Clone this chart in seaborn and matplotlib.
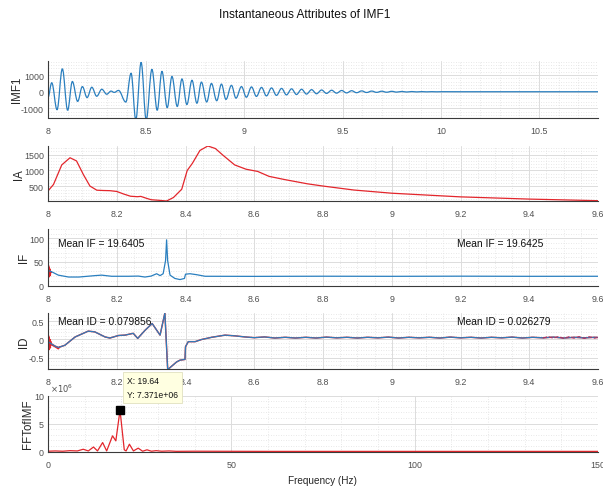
import matplotlib
matplotlib.use("Agg")
import matplotlib.pyplot as plt
import seaborn as sns
from matplotlib.ticker import AutoMinorLocator, FuncFormatter, FixedLocator
from matplotlib.path import Path
from matplotlib.patches import PathPatch

# ---------------- data ----------------
imf_t = [8.000, 8.019, 8.046, 8.073, 8.100, 8.124, 8.151, 8.175, 8.199, 8.223,
         8.248, 8.274, 8.299, 8.321, 8.337, 8.359, 8.396, 8.423, 8.447, 8.474,
         8.500, 8.529, 8.556, 8.580, 8.607, 8.631, 8.658, 8.682, 8.707, 8.733,
         8.758, 8.781, 8.808, 8.832, 8.859, 8.883, 8.906, 8.934, 8.957, 8.985,
         9.010, 9.036, 9.061, 9.087, 9.112, 9.138, 9.163, 9.189, 9.214, 9.240,
         9.265, 9.291, 9.316, 9.342, 9.367, 9.393, 9.418, 9.444, 9.469, 9.495,
         9.520, 9.546, 9.571, 9.597, 9.622, 9.648, 9.673, 9.699, 9.724, 9.750,
         9.775, 9.801, 9.826, 9.852, 9.877, 9.903, 9.928, 9.954, 9.979, 10.005,
         10.100, 10.800]
imf_v = [-350, 540, -1080, 1380, -1115, 615, -580, 310, -350, 270,
         -270, 150, -150, 40, -40, 80, -620, 1115, -1700, 1770,
         -1700, 1350, -1115, 1230, -960, 920, -885, 770, -770, 690,
         -690, 580, -615, 500, -540, 460, -460, 385, -385, 310,
         -330, 290, -280, 260, -250, 230, -220, 200, -190, 175,
         -165, 150, -140, 125, -120, 105, -100, 90, -85, 75,
         -70, 62, -58, 50, -46, 40, -37, 32, -29, 25,
         -22, 18, -16, 12, -10, 8, -6, 5, -4, 3,
         0, 0]

ia_t = [8.000, 8.016, 8.040, 8.064, 8.083, 8.103, 8.122, 8.142, 8.161, 8.180,
        8.200, 8.220, 8.240, 8.260, 8.270, 8.285, 8.300, 8.325, 8.345, 8.365,
        8.389, 8.405, 8.420, 8.442, 8.465, 8.487, 8.509, 8.543, 8.576, 8.610,
        8.643, 8.688, 8.755, 8.800, 8.890, 9.000, 9.200, 9.400, 9.600]
ia_v = [355, 560, 1175, 1400, 1300, 870, 510, 380, 370, 365,
        340, 260, 190, 175, 185, 130, 80, 60, 40, 150,
        410, 1000, 1225, 1630, 1770, 1690, 1480, 1175, 1040, 970,
        815, 715, 580, 510, 385, 285, 170, 100, 50]

if_t = [8.000, 8.011, 8.030, 8.060, 8.090, 8.137, 8.156, 8.185, 8.234, 8.263,
        8.282, 8.300, 8.316, 8.326, 8.335, 8.342, 8.345, 8.348, 8.355, 8.369,
        8.384, 8.397, 8.400, 8.413, 8.432, 8.457, 8.600, 8.800, 9.000, 9.200,
        9.400, 9.600]
if_v = [32, 29, 22, 18, 18, 21, 22, 19.6, 19.6, 20,
        18, 20, 25, 21, 25, 53, 97, 53, 22, 15,
        12.6, 15, 24, 25, 23, 19.6, 19.4, 19.7, 19.5, 19.8,
        19.5, 19.6]
if_red_t = [8.000, 8.001, 8.002, 8.003, 8.004, 8.005, 8.006, 8.007, 8.008, 8.010]
if_red_v = [45, 15, 42, 18, 38, 20, 35, 22, 30, 28]

id_t = [8.000, 8.020, 8.030, 8.049, 8.079, 8.117, 8.136, 8.166, 8.180, 8.205,
        8.224, 8.248, 8.261, 8.282, 8.303, 8.326, 8.340, 8.348, 8.352, 8.374,
        8.384, 8.3985, 8.400, 8.408, 8.428, 8.447, 8.476, 8.515, 8.544, 8.573,
        8.60, 8.63, 8.66, 8.69, 8.72, 8.75, 8.78, 8.81, 8.84, 8.87,
        8.90, 8.93, 8.96, 8.99, 9.02, 9.05, 9.08, 9.11, 9.14, 9.17,
        9.20, 9.23, 9.26, 9.29, 9.32, 9.35, 9.38, 9.41, 9.44, 9.47,
        9.50, 9.53, 9.56, 9.59, 9.60]
id_v = [-0.06, -0.18, -0.22, -0.16, 0.07, 0.23, 0.21, 0.07, 0.04, 0.11,
        0.12, 0.17, 0.03, 0.25, 0.44, 0.12, 0.73, -0.80, -0.80, -0.62,
        -0.57, -0.55, -0.20, -0.06, -0.06, 0.00, 0.06, 0.12, 0.10, 0.07,
        0.05, 0.07, 0.04, 0.06, 0.04, 0.06, 0.04, 0.065, 0.045, 0.06,
        0.04, 0.06, 0.045, 0.065, 0.04, 0.06, 0.045, 0.06, 0.04, 0.065,
        0.045, 0.06, 0.04, 0.06, 0.045, 0.065, 0.04, 0.06, 0.045, 0.065,
        0.04, 0.06, 0.045, 0.06, 0.055]
id_red_t = [8.000, 8.001, 8.002, 8.003, 8.004, 8.005, 8.006, 8.007, 8.008, 8.010,
            8.020, 8.030, 8.035]
id_red_v = [0.20, -0.30, 0.10, -0.28, 0.05, -0.25, 0.00, -0.22, -0.05, -0.15,
            -0.20, -0.26, -0.20]
id_red_end_t = [9.440, 9.455, 9.470, 9.485, 9.500, 9.515, 9.530, 9.545, 9.560, 9.575, 9.590, 9.600]
id_red_end_v = [0.045, 0.075, 0.035, 0.08, 0.03, 0.075, 0.035, 0.08, 0.03, 0.075, 0.035, 0.06]

fft_f = [0, 2, 4, 6, 8, 9.6, 11, 12.4, 13.5, 14.9,
         16.0, 17.6, 18.5, 19.64, 20.8, 21.3, 22.2, 23.3, 24.6, 25.8,
         27.0, 28.2, 29.5, 31, 33, 35, 40, 60, 100, 150]
fft_v = [0.05e6, 0.1e6, 0.05e6, 0.15e6, 0.1e6, 0.4e6, 0.1e6, 0.8e6, 0.1e6, 1.6e6,
         0.1e6, 2.8e6, 1.9e6, 7.371e6, 0.3e6, 0.1e6, 1.3e6, 0.1e6, 0.6e6, 0.05e6,
         0.3e6, 0.05e6, 0.15e6, 0.05e6, 0.1e6, 0.03e6, 0.05e6, 0.02e6, 0.02e6, 0.02e6]
peak_f = 19.64
peak_v = 7.371e6

mean_if = ["Mean IF = 19.6405", "Mean IF = 19.6425"]
mean_id = ["Mean ID = 0.079856", "Mean ID = 0.026279"]

# ---------------- styling ----------------
sns.set_style("white")
plt.rcParams['font.family'] = ['Liberation Sans', 'DejaVu Sans']

BLUE = '#2a7fbf'
RED = '#e3262c'
TXT = '#262626'
TICK = '#505050'

W, H = 603, 489
fig = plt.figure(figsize=(W / 100, H / 100), dpi=100)


def add_ax(top, bottom, left=48, right=598):
    return fig.add_axes([left / W, 1 - bottom / H, (right - left) / W, (bottom - top) / H])


fmt = FuncFormatter(lambda v, p: f'{v:g}')


def style(ax, xminor, yminor):
    for s in ['top', 'right']:
        ax.spines[s].set_visible(False)
    for s in ['left', 'bottom']:
        ax.spines[s].set_color('#3a3a3a')
        ax.spines[s].set_linewidth(0.8)
    ax.tick_params(which='major', direction='in', length=3, width=0.7,
                   colors='#3a3a3a', labelcolor=TICK, labelsize=6.4)
    ax.tick_params(axis='x', pad=6)
    ax.tick_params(axis='y', pad=3)
    ax.tick_params(which='minor', length=0)
    ax.xaxis.set_minor_locator(AutoMinorLocator(xminor))
    ax.yaxis.set_minor_locator(AutoMinorLocator(yminor))
    ax.grid(which='major', color='#dcdcdc', lw=0.7, ls='-')
    ax.grid(which='minor', color='#e0e0e0', lw=0.6, ls=(0, (1, 2)))
    ax.set_axisbelow(True)
    ax.xaxis.set_major_formatter(fmt)
    ax.yaxis.set_major_formatter(fmt)
    ax.set_xlabel('')


def ylab(ax, text, xpx):
    ax.set_ylabel(text, fontsize=8.3, color=TXT)
    ax.yaxis.set_label_coords((xpx - 48) / 550, 0.5)


def smooth_line(ax, xs, ys, **kw):
    # draw the oscillation through its read extremes with flat tangents at each extreme
    verts = [(xs[0], ys[0])]
    codes = [Path.MOVETO]
    for i in range(1, len(xs)):
        x0, y0, x1, y1 = xs[i - 1], ys[i - 1], xs[i], ys[i]
        dx = x1 - x0
        verts += [(x0 + dx * 0.364, y0), (x1 - dx * 0.364, y1), (x1, y1)]
        codes += [Path.CURVE4] * 3
    ax.add_patch(PathPatch(Path(verts, codes), fill=False, **kw))


# ---- panel 1: IMF1 ----
ax1 = add_ax(62, 118.5)
sns.lineplot(x=imf_t, y=imf_v, ax=ax1, color=BLUE, lw=0, sort=False, estimator=None)
smooth_line(ax1, imf_t, imf_v, ec=BLUE, lw=0.9)
ax1.set_xlim(8, 10.8)
ax1.set_ylim(-1550, 1850)
ax1.xaxis.set_major_locator(FixedLocator([8, 8.5, 9, 9.5, 10, 10.5]))
ax1.yaxis.set_major_locator(FixedLocator([-1000, 0, 1000]))
style(ax1, 5, 5)
ylab(ax1, 'IMF1', 23)

# ---- panel 2: IA ----
xt = [8, 8.2, 8.4, 8.6, 8.8, 9, 9.2, 9.4, 9.6]
ax2 = add_ax(147, 202)
sns.lineplot(x=ia_t, y=ia_v, ax=ax2, color=RED, lw=0.9, sort=False, estimator=None)
ax2.set_xlim(8, 9.6)
ax2.set_ylim(40, 1770)
ax2.xaxis.set_major_locator(FixedLocator(xt))
ax2.yaxis.set_major_locator(FixedLocator([500, 1000, 1500]))
style(ax2, 4, 5)
ylab(ax2, 'IA', 25)

# ---- panel 3: IF ----
ax3 = add_ax(230, 286.5)
sns.lineplot(x=if_red_t, y=if_red_v, ax=ax3, color=RED, lw=0.9, sort=False, estimator=None)
sns.lineplot(x=if_t, y=if_v, ax=ax3, color=BLUE, lw=0.9, sort=False, estimator=None)
ax3.set_xlim(8, 9.6)
ax3.set_ylim(0, 120)
ax3.xaxis.set_major_locator(FixedLocator(xt))
ax3.yaxis.set_major_locator(FixedLocator([0, 50, 100]))
style(ax3, 4, 5)
ylab(ax3, 'IF', 29.5)
ax3.text(8.029, 91, mean_if[0], fontsize=7.4, color='#111111', va='center')
ax3.text(9.19, 91, mean_if[1], fontsize=7.4, color='#111111', va='center')

# ---- panel 4: ID ----
ax4 = add_ax(314, 369.5)
sns.lineplot(x=id_t, y=id_v, ax=ax4, color=RED, lw=1.05, sort=False, estimator=None)
sns.lineplot(x=id_red_t, y=id_red_v, ax=ax4, color=RED, lw=0.9, sort=False, estimator=None)
sns.lineplot(x=id_t, y=id_v, ax=ax4, color=BLUE, lw=0.85, sort=False, estimator=None)
sns.lineplot(x=id_red_end_t, y=id_red_end_v, ax=ax4, color='#b03060', lw=0.8, ls='--',
             sort=False, estimator=None)
ax4.set_xlim(8, 9.6)
ax4.set_ylim(-0.8, 0.73)
ax4.xaxis.set_major_locator(FixedLocator(xt))
ax4.yaxis.set_major_locator(FixedLocator([-0.5, 0, 0.5]))
style(ax4, 4, 5)
ylab(ax4, 'ID', 29.5)
ax4.text(8.029, 0.5, mean_id[0], fontsize=7.4, color='#111111', va='center')
ax4.text(9.19, 0.5, mean_id[1], fontsize=7.4, color='#111111', va='center')

# ---- panel 5: FFT ----
ax5 = add_ax(396.5, 452.5)
sns.lineplot(x=fft_f, y=fft_v, ax=ax5, color=RED, lw=0.9, sort=False, estimator=None)
ax5.plot([peak_f], [peak_v], marker='s', ms=5.5, color='black', mec='black', ls='none')
ax5.set_xlim(0, 150)
ax5.set_ylim(0, 10e6)
ax5.xaxis.set_major_locator(FixedLocator([0, 50, 100, 150]))
ax5.yaxis.set_major_locator(FixedLocator([0, 5e6, 10e6]))
style(ax5, 5, 5)
ax5.yaxis.set_major_formatter(FuncFormatter(lambda v, p: f'{v / 1e6:g}'))
ylab(ax5, 'FFTofIMF', 34.5)
ax5.text(0.003, 1.02, r'$\times10^{6}$', transform=ax5.transAxes, fontsize=6,
         color=TICK, va='bottom', ha='left')
ax5.annotate(f'X: {peak_f:g}\nY: {peak_v:.3e}',
             xy=(peak_f, peak_v), xytext=(7, 11), textcoords='offset pixels',
             fontsize=6.2, color='#111111', va='bottom', ha='left', linespacing=1.75,
             bbox=dict(boxstyle='square,pad=0.45', fc='#ffffe1', ec='#e0e0c0', lw=0.6),
             annotation_clip=False, zorder=10)

fig.text(322 / W, 1 - 481 / H, 'Frequency (Hz)', ha='center', va='center',
         fontsize=7.2, color=TXT)
fig.text(305 / W, 1 - 15 / H, 'Instantaneous Attributes of IMF1', ha='center',
         va='center', fontsize=8.6, color='#111111')

fig.savefig('out.png', dpi=100)
